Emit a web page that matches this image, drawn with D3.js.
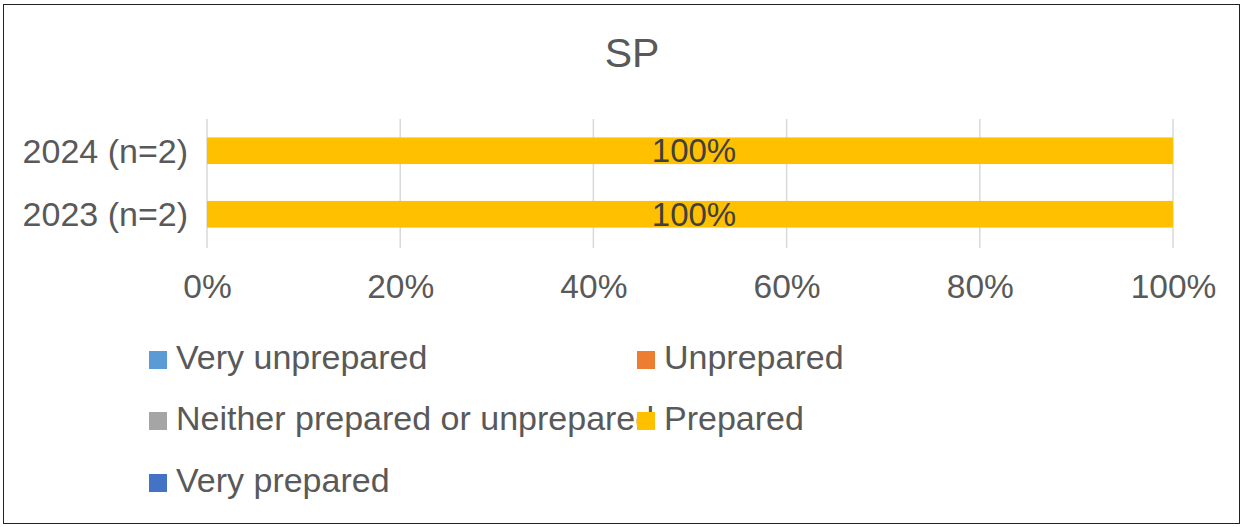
<!DOCTYPE html>
<html><head><meta charset="utf-8">
<script src="https://cdn.jsdelivr.net/npm/d3@7"></script>
<style>body{margin:0;background:#fff;font-family:"Liberation Sans",Arial,sans-serif}</style>
</head><body>
<svg id="c" width="1243" height="527"></svg>
<script>
const title = "SP";
const categories = ["2024 (n=2)", "2023 (n=2)"];
const seriesNames = ["Very unprepared", "Unprepared", "Neither prepared or unprepared", "Prepared", "Very prepared"];
const seriesColors = ["#5B9BD5", "#ED7D31", "#A5A5A5", "#FFC000", "#4472C4"];
const veryUnprepared = [0, 0];
const unprepared = [0, 0];
const neither = [0, 0];
const prepared = [100, 100];
const veryPrepared = [0, 0];
const xTicks = [0, 20, 40, 60, 80, 100];

const seriesValues = [veryUnprepared, unprepared, neither, prepared, veryPrepared];
const rows = categories.map((c, i) => {
  const r = {cat: c};
  seriesNames.forEach((s, j) => r[s] = seriesValues[j][i]);
  return r;
});
const stack = d3.stack().keys(seriesNames)(rows);
const FONT = "Liberation Sans, Arial, sans-serif";

const svg = d3.select("#c");
svg.append("rect").attr("x", 3.5).attr("y", 4.5).attr("width", 1236).attr("height", 519)
  .attr("fill", "#fff").attr("stroke", "#222").attr("stroke-width", 1);

const x = d3.scaleLinear().domain([0, 100]).range([207, 1173]);
const y = d3.scaleBand().domain(categories).range([119, 246]).paddingInner(0.58).paddingOuter(0.29);

svg.append("text").attr("x", 632).attr("y", 67).attr("text-anchor", "middle")
  .attr("font-size", 41).attr("fill", "#595959").text(title);

// gridlines
svg.append("g").selectAll("line").data(xTicks).join("line")
  .attr("x1", d => x(d)).attr("x2", d => x(d)).attr("y1", 119).attr("y2", 248)
  .attr("stroke", "#d9d9d9").attr("stroke-width", 1.5);

// x axis
const xAxis = svg.append("g").attr("transform", "translate(0,248)")
  .call(d3.axisBottom(x).tickValues(xTicks).tickFormat(d => d + "%").tickSize(0).tickPadding(0));
xAxis.select(".domain").remove();
xAxis.selectAll("text").attr("dy", null).attr("y", 50).attr("font-size", 33.5).attr("fill", "#595959").attr("font-family", FONT);

// y axis
const yAxis = svg.append("g").attr("transform", "translate(207,0)")
  .call(d3.axisLeft(y).tickSize(0).tickPadding(19));
yAxis.select(".domain").remove();
yAxis.selectAll("text").attr("dy", "0.35em").attr("font-size", 34).attr("fill", "#595959").attr("font-family", FONT);

// bars
stack.forEach((s, j) => {
  svg.append("g").attr("fill", seriesColors[j]).selectAll("rect").data(s).join("rect")
    .attr("x", d => x(d[0])).attr("width", d => x(d[1]) - x(d[0]))
    .attr("y", d => y(d.data.cat)).attr("height", y.bandwidth());
  svg.append("g").selectAll("text").data(s.filter(d => d[1] - d[0] > 0)).join("text")
    .attr("x", d => (x(d[0]) + x(d[1])) / 2 + 4)
    .attr("y", d => y(d.data.cat) + y.bandwidth() / 2 + 11.5)
    .attr("text-anchor", "middle").attr("font-size", 33).attr("fill", "#404040")
    .text(d => Math.round(d[1] - d[0]) + "%");
});

// legend
const legendPos = [[149, 369], [637, 369], [149, 430], [637, 430], [149, 492]];
const lg = svg.append("g").selectAll("g").data(seriesNames).join("g")
  .attr("transform", (d, i) => `translate(${legendPos[i][0]},${legendPos[i][1]})`);
lg.append("rect").attr("x", 0).attr("y", -18).attr("width", 18).attr("height", 18)
  .attr("fill", (d, i) => seriesColors[i]);
lg.append("text").attr("x", 27).attr("y", 0).attr("font-size", 34).attr("fill", "#595959").text(d => d);
</script>
</body></html>
